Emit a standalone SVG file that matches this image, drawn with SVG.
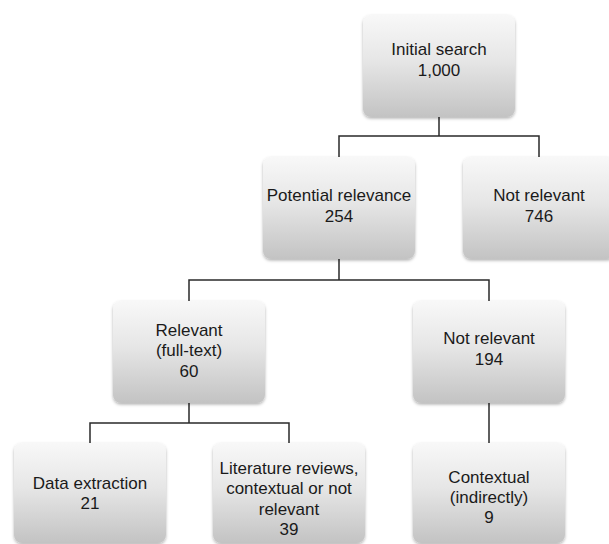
<svg xmlns="http://www.w3.org/2000/svg" width="609" height="544" viewBox="0 0 609 544">
<style>
.box{fill:url(#g);filter:url(#sh)}
.t{font-family:"Liberation Sans",Arial,sans-serif;font-size:17px;fill:#1a1a1a;text-anchor:middle}
.c{fill:none;stroke:#2a2a2a;stroke-width:1.5}
</style>
<defs>
<linearGradient id="g" x1="0" y1="0" x2="0" y2="1">
<stop offset="0" stop-color="#f8f8f8"/>
<stop offset="0.45" stop-color="#e6e6e6"/>
<stop offset="1" stop-color="#c3c3c3"/>
</linearGradient>
<filter id="sh" x="-10%" y="-10%" width="120%" height="125%">
<feDropShadow dx="0" dy="1.5" stdDeviation="1.5" flood-color="#000" flood-opacity="0.3"/>
</filter>
</defs>
<rect width="609" height="544" fill="#fff"/>
<g id="connectors">
<path class="c" d="M439,117V136M339,157V136H539V157"/>
<path class="c" d="M339,259V280M189,301V280H489V301"/>
<path class="c" d="M189,403V423M90,443V423H289V443"/>
<path class="c" d="M489,403V443"/>
</g>
<g id="n1"><rect class="box" x="363" y="15" width="152" height="102" rx="8"/>
<text class="t" x="439" y="55">Initial search</text><text class="t" x="439" y="76">1,000</text></g>
<g id="n2"><rect class="box" x="263" y="157" width="152" height="102" rx="8"/>
<text class="t" x="339" y="201">Potential relevance</text><text class="t" x="339" y="222">254</text></g>
<g id="n3"><rect class="box" x="463" y="157" width="152" height="102" rx="8"/>
<text class="t" x="539" y="201">Not relevant</text><text class="t" x="539" y="222">746</text></g>
<g id="n4"><rect class="box" x="113" y="301" width="152" height="102" rx="8"/>
<text class="t" x="189" y="335.5">Relevant</text><text class="t" x="189" y="356">(full-text)</text><text class="t" x="189" y="376.5">60</text></g>
<g id="n5"><rect class="box" x="413" y="301" width="152" height="102" rx="8"/>
<text class="t" x="489" y="344">Not relevant</text><text class="t" x="489" y="365">194</text></g>
<g id="n6"><rect class="box" x="14" y="443" width="152" height="100" rx="8"/>
<text class="t" x="90" y="488.5">Data extraction</text><text class="t" x="90" y="509">21</text></g>
<g id="n7"><rect class="box" x="213" y="443" width="152" height="100" rx="8"/>
<text class="t" x="289" y="473.5">Literature reviews,</text><text class="t" x="289" y="494">contextual or not</text><text class="t" x="289" y="514.5">relevant</text><text class="t" x="289" y="535">39</text></g>
<g id="n8"><rect class="box" x="413" y="443" width="152" height="100" rx="8"/>
<text class="t" x="489" y="482.5">Contextual</text><text class="t" x="489" y="502.5">(indirectly)</text><text class="t" x="489" y="523">9</text></g>
</svg>
